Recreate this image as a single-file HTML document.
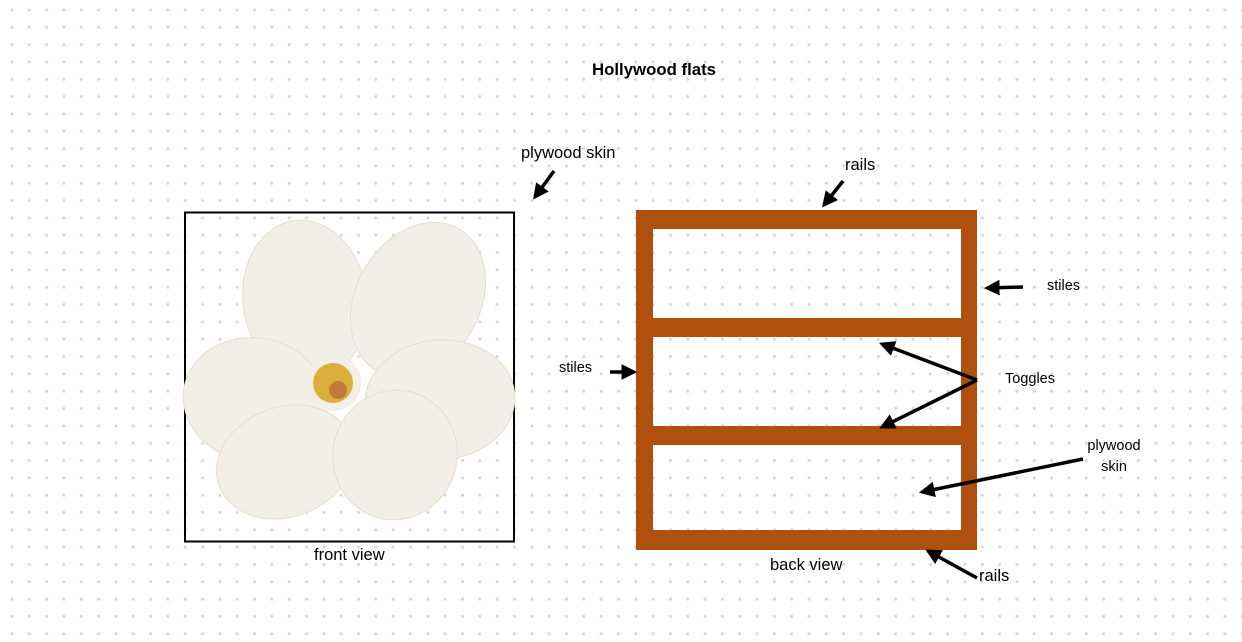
<!DOCTYPE html>
<html><head><meta charset="utf-8"><style>
html,body{margin:0;padding:0}
body{width:1242px;height:642px;position:relative;overflow:hidden;background:#fff;
background-image:radial-gradient(circle,#d3d6e0 1.4px,transparent 1.7px);background-size:17.33px 17.33px;background-position:3.3px 1.3px;
font-family:"Liberation Sans",sans-serif;color:#000}
.t{position:absolute;white-space:nowrap}
</style></head><body>
<div class="t" style="left:592px;top:60px;font-size:16.8px;font-weight:bold">Hollywood flats</div>
<div class="t" style="left:521px;top:144px;font-size:16.5px">plywood skin</div>
<div class="t" style="left:845px;top:156px;font-size:16.5px">rails</div>
<div class="t" style="left:1047px;top:278px;font-size:14.5px">stiles</div>
<div class="t" style="left:559px;top:360px;font-size:14.5px">stiles</div>
<div class="t" style="left:1005px;top:371px;font-size:14.5px">Toggles</div>
<div class="t" style="left:1074px;top:436px;font-size:14.5px;text-align:center;width:80px;line-height:21px;white-space:normal">plywood skin</div>
<div class="t" style="left:314px;top:546px;font-size:16.5px">front view</div>
<div class="t" style="left:770px;top:556px;font-size:16.5px">back view</div>
<div class="t" style="left:979px;top:567px;font-size:16.5px">rails</div>
<svg width="1242" height="642" style="position:absolute;left:0;top:0">
<defs><marker id="a" viewBox="0 0 10 10" refX="8" refY="5" markerWidth="4.5" markerHeight="4.5" orient="auto"><path d="M0,0L10,5L0,10z" fill="#000"/></marker></defs>
<rect x="185" y="212.5" width="329" height="329" fill="none" stroke="#000" stroke-width="2"/>
<g fill="#f2efe8" stroke="#e6dcc8" stroke-width="1">
<ellipse cx="305" cy="300" rx="62" ry="80" transform="rotate(-8 305 300)"/>
<ellipse cx="418" cy="300" rx="62" ry="82" transform="rotate(30 418 300)"/>
<ellipse cx="255" cy="400" rx="72" ry="62" transform="rotate(10 255 400)"/>
<ellipse cx="440" cy="400" rx="75" ry="60" transform="rotate(-5 440 400)"/>
<ellipse cx="285" cy="462" rx="70" ry="55" transform="rotate(-20 285 462)"/>
<ellipse cx="395" cy="455" rx="62" ry="65" transform="rotate(15 395 455)"/>
</g>
<circle cx="333" cy="383" r="28" fill="#f2efe8"/>
<circle cx="333" cy="383" r="20" fill="#dcae3c"/>
<circle cx="338" cy="390" r="9" fill="#c07a3a"/>
<g fill="#b0500f">
<rect x="636" y="210" width="341" height="19"/>
<rect x="636" y="530" width="341" height="20"/>
<rect x="636" y="210" width="17" height="340"/>
<rect x="961" y="210" width="16" height="340"/>
<rect x="653" y="318" width="308" height="19"/>
<rect x="653" y="426" width="324" height="19"/>
</g>
<g stroke="#000" stroke-width="3.5" fill="none" marker-end="url(#a)">
<line x1="554" y1="171" x2="535" y2="197"/>
<line x1="843" y1="181" x2="824" y2="205"/>
<line x1="1023" y1="287" x2="987" y2="288"/>
<line x1="610" y1="372" x2="634" y2="372"/>
<line x1="977" y1="380" x2="882" y2="344"/>
<line x1="977" y1="380" x2="882" y2="427"/>
<line x1="1083" y1="459" x2="922" y2="492"/>
<line x1="977" y1="578" x2="928" y2="551"/>
</g>
</svg>
</body></html>
